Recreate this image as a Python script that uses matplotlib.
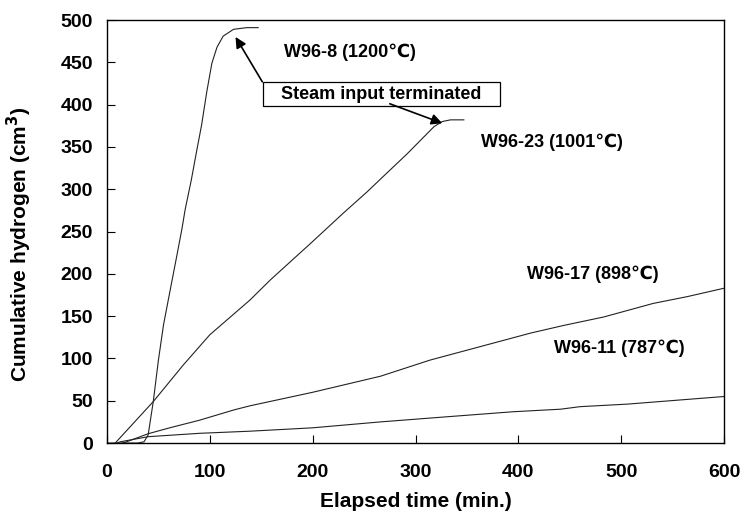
import matplotlib
matplotlib.use("Agg")
import matplotlib.pyplot as plt
from matplotlib.patches import Rectangle

plt.rcParams['font.family'] = ['Liberation Sans', 'DejaVu Sans']
plt.rcParams['font.weight'] = 'bold'

# values (min, cm3)
w96_8_t = [0, 30, 36, 40, 45, 50, 55, 61, 68, 73, 76, 82, 87, 92, 97, 102, 107, 113, 123, 136, 147]
w96_8_h = [0, 0, 1.5, 9.5, 49, 98, 140, 178, 222, 254, 276, 311, 344, 376, 415, 449, 468, 481, 489, 491, 491]

w96_23_t = [8, 45, 74, 100, 139, 159, 198, 230, 253, 272, 292, 318, 326, 334, 347]
w96_23_h = [0, 49, 92, 128, 169, 193, 236, 272, 297, 319, 342, 374, 380, 382, 382]

w96_17_t = [15, 19, 40, 61, 90, 123, 139, 200, 266, 314, 363, 412, 444, 483, 531, 564, 600]
w96_17_h = [0, 1.5, 11, 18, 27, 39, 44, 60, 79, 98, 114, 130, 139, 149, 165, 173, 183]

w96_11_t = [10, 13, 40, 90, 139, 200, 266, 330, 395, 441, 460, 506, 600]
w96_11_h = [0, 1.5, 7.5, 11.5, 14, 18, 25, 31, 37, 40, 43, 46, 55]

fig = plt.figure(figsize=(7.43, 5.20), dpi=100)
ax = fig.add_axes([0.144, 0.148, 0.8305, 0.8135])

lc = '#222222'
ax.plot(w96_8_t, w96_8_h, color=lc, lw=0.8)
ax.plot(w96_23_t, w96_23_h, color=lc, lw=0.8)
ax.plot(w96_17_t, w96_17_h, color=lc, lw=0.8)
ax.plot(w96_11_t, w96_11_h, color=lc, lw=0.8)

ax.set_xlim(0, 600)
ax.set_ylim(0, 500)
ax.set_xticks(range(0, 601, 100))
ax.set_yticks(range(0, 501, 50))
ax.tick_params(direction='in', length=6, width=0.8, labelsize=14)
ax.tick_params(axis='x', pad=15)
ax.tick_params(axis='y', pad=10)
for lab in ax.get_xticklabels() + ax.get_yticklabels():
    lab.set_fontweight('bold')
for s in ax.spines.values():
    s.set_linewidth(1.0)

ax.set_xlabel('Elapsed time (min.)', fontsize=15, fontweight='bold', labelpad=8)
ax.set_ylabel('Cumulative hydrogen (cm$^3$)', fontsize=15, fontweight='bold')
ax.yaxis.set_label_coords(-0.118, 0.47)

# curve labels
fs = 13
ax.text(172, 462, 'W96-8 (1200\u2103)', fontsize=fs, fontweight='bold', va='center')
ax.text(364, 355, 'W96-23 (1001\u2103)', fontsize=fs, fontweight='bold', va='center')
ax.text(408, 200, 'W96-17 (898\u2103)', fontsize=fs, fontweight='bold', va='center')
ax.text(435, 112, 'W96-11 (787\u2103)', fontsize=fs, fontweight='bold', va='center')

# annotation box with two arrows
ax.add_patch(Rectangle((152, 398.5), 230, 28.5, fc='white', ec='black', lw=0.9, zorder=3))
ax.text(267, 412.5, 'Steam input terminated', fontsize=13, fontweight='bold',
        ha='center', va='center', zorder=4)
ap = dict(arrowstyle='-|>', color='black', lw=1.2, mutation_scale=16, shrinkA=0, shrinkB=0)
ax.annotate('', xy=(125, 480), xytext=(151, 427), arrowprops=ap)
ax.annotate('', xy=(326, 378), xytext=(275, 401), arrowprops=ap)

fig.savefig('out.png', dpi=100)
